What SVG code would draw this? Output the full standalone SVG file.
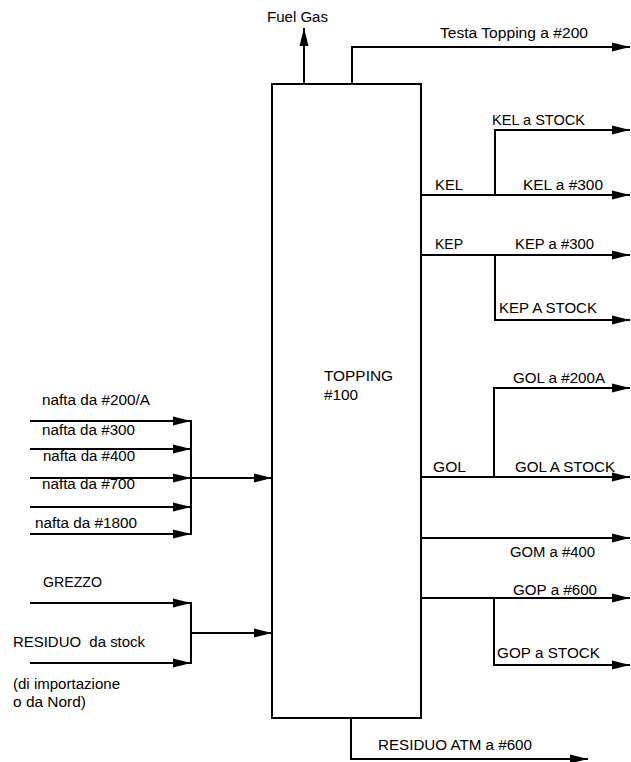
<svg xmlns="http://www.w3.org/2000/svg" width="631" height="762" viewBox="0 0 631 762">
<style>
text{font-family:"Liberation Sans",Arial,sans-serif;font-size:14px;fill:#000}
.ln{fill:none;stroke:#000;stroke-width:2}
.ar{marker-end:url(#ah)}
</style>
<defs>
<marker id="ah" markerUnits="userSpaceOnUse" markerWidth="20" markerHeight="10" refX="18" refY="5" orient="auto" overflow="visible">
<path d="M0,0.5 L18,5 L0,9.5 z" fill="#000"/>
</marker>
</defs>
<rect width="631" height="762" fill="#fff"/>
<g id="topping">
<rect x="272" y="84" width="149" height="634" fill="#fff" stroke="#000" stroke-width="2"/>
<text x="324" y="381" textLength="69" lengthAdjust="spacingAndGlyphs">TOPPING</text>
<text x="324" y="400" textLength="34" lengthAdjust="spacingAndGlyphs">#100</text>
</g>
<g id="connectors">
<path class="ln ar" d="M304,84 V28"/>
<path class="ln ar" d="M352,84 V47 H630"/>
<path class="ln ar" d="M421,195 H630"/>
<path class="ln ar" d="M495,195 V130 H630"/>
<path class="ln ar" d="M421,255 H630"/>
<path class="ln ar" d="M495,255 V320 H630"/>
<path class="ln ar" d="M421,477 H630"/>
<path class="ln ar" d="M494,477 V388 H630"/>
<path class="ln ar" d="M421,538 H630"/>
<path class="ln ar" d="M421,598 H630"/>
<path class="ln ar" d="M494,598 V665 H630"/>
<path class="ln ar" d="M351,718 V759 H588"/>
<path class="ln ar" d="M30,421 H191"/>
<path class="ln ar" d="M30,449 H191"/>
<path class="ln ar" d="M30,478 H191"/>
<path class="ln ar" d="M30,507 H191"/>
<path class="ln ar" d="M30,534 H191"/>
<path class="ln" d="M191,420 V535"/>
<path class="ln ar" d="M191,478 H272"/>
<path class="ln ar" d="M30,603 H191"/>
<path class="ln ar" d="M30,663 H191"/>
<path class="ln" d="M191,602 V664"/>
<path class="ln ar" d="M191,633 H272"/>
</g>
<g id="labels">
<text x="267" y="22" textLength="61" lengthAdjust="spacingAndGlyphs">Fuel Gas</text>
<text x="440" y="38" textLength="148" lengthAdjust="spacingAndGlyphs">Testa Topping a #200</text>
<text x="492" y="125" textLength="93" lengthAdjust="spacingAndGlyphs">KEL a STOCK</text>
<text x="435" y="190" textLength="28" lengthAdjust="spacingAndGlyphs">KEL</text>
<text x="523" y="190" textLength="80" lengthAdjust="spacingAndGlyphs">KEL a #300</text>
<text x="435" y="249" textLength="28" lengthAdjust="spacingAndGlyphs">KEP</text>
<text x="515" y="249" textLength="79" lengthAdjust="spacingAndGlyphs">KEP a #300</text>
<text x="499" y="313" textLength="98" lengthAdjust="spacingAndGlyphs">KEP A STOCK</text>
<text x="513" y="383" textLength="92" lengthAdjust="spacingAndGlyphs">GOL a #200A</text>
<text x="433" y="472" textLength="33" lengthAdjust="spacingAndGlyphs">GOL</text>
<text x="515" y="472" textLength="100" lengthAdjust="spacingAndGlyphs">GOL A STOCK</text>
<text x="510" y="557" textLength="85" lengthAdjust="spacingAndGlyphs">GOM a #400</text>
<text x="513" y="595" textLength="84" lengthAdjust="spacingAndGlyphs">GOP a #600</text>
<text x="497" y="658" textLength="103" lengthAdjust="spacingAndGlyphs">GOP a STOCK</text>
<text x="378" y="750" textLength="154" lengthAdjust="spacingAndGlyphs">RESIDUO ATM a #600</text>
<text x="42" y="405" textLength="108" lengthAdjust="spacingAndGlyphs">nafta da #200/A</text>
<text x="42" y="435" textLength="93" lengthAdjust="spacingAndGlyphs">nafta da #300</text>
<text x="43" y="461" textLength="92" lengthAdjust="spacingAndGlyphs">nafta da #400</text>
<text x="42" y="489" textLength="93" lengthAdjust="spacingAndGlyphs">nafta da #700</text>
<text x="35" y="528" textLength="102" lengthAdjust="spacingAndGlyphs">nafta da #1800</text>
<text x="43" y="587" textLength="59" lengthAdjust="spacingAndGlyphs">GREZZO</text>
<text x="13" y="647" textLength="132" lengthAdjust="spacingAndGlyphs" xml:space="preserve">RESIDUO  da stock</text>
<text x="13" y="689" textLength="107" lengthAdjust="spacingAndGlyphs">(di importazione</text>
<text x="13" y="707" textLength="73" lengthAdjust="spacingAndGlyphs">o da Nord)</text>
</g>
</svg>
